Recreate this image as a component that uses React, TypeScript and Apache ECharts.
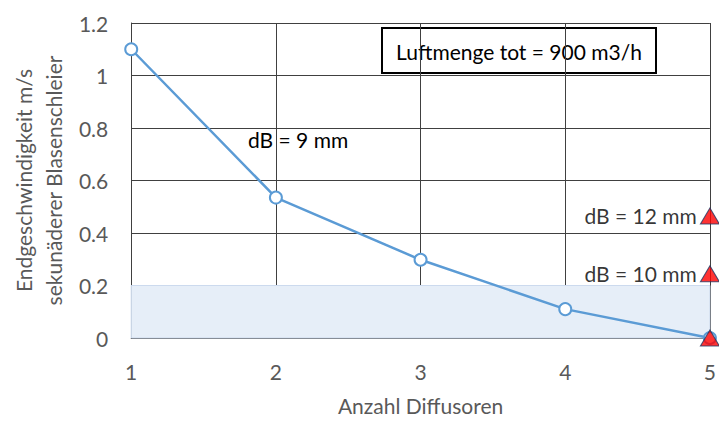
import React, { useEffect, useRef } from "react";
import * as echarts from "echarts";

const xValues = [1, 2, 3, 4, 5];
const speedValues = [1.1, 0.535, 0.298, 0.11, 0.0];
const markerValues = [0.465, 0.245, 0.0];
const markerLabels = ["dB = 12 mm", "dB = 10 mm", ""];
const yTicks = [0, 0.2, 0.4, 0.6, 0.8, 1, 1.2];
const bandRange = [0, 0.2];

const FONT = "Lato";
const GRAY = "#595959";
const FS = 21;

export default function App() {
  const ref = useRef<HTMLDivElement>(null);
  useEffect(() => {
    document.body.style.margin = "0";
    document.body.style.overflow = "hidden";
    if (!ref.current) return;
    const chart = echarts.init(ref.current, null, { renderer: "svg" });
    chart.setOption({
      animation: false,
      textStyle: { fontFamily: FONT },
      grid: { left: 128, right: 9, top: 23, bottom: 79, containLabel: false },
      xAxis: {
        type: "value",
        min: 1,
        max: 5,
        interval: 1,
        name: "Anzahl Diffusoren",
        nameLocation: "middle",
        nameGap: 57,
        nameTextStyle: { color: GRAY, fontSize: FS, fontFamily: FONT },
        axisLine: { show: true, lineStyle: { color: "#404040", width: 1 } },
        axisTick: { show: false },
        axisLabel: { color: GRAY, fontSize: FS, margin: 23, fontFamily: FONT },
        splitLine: { show: true, lineStyle: { color: "#404040", width: 1 } },
      },
      yAxis: {
        type: "value",
        min: yTicks[0],
        max: yTicks[yTicks.length - 1],
        interval: 0.2,
        name: "Endgeschwindigkeit m/s\nsekunäderer Blasenschleier",
        nameLocation: "middle",
        nameGap: 61,
        nameTextStyle: { color: GRAY, fontSize: FS, fontFamily: FONT, lineHeight: 30 },
        axisLine: { show: true, lineStyle: { color: "#404040", width: 1 } },
        axisTick: { show: false },
        axisLabel: {
          color: GRAY,
          fontSize: FS,
          margin: 23,
          fontFamily: FONT,
          formatter: (v: number) => String(Math.round(v * 10) / 10),
        },
        splitLine: { show: true, lineStyle: { color: "#404040", width: 1 } },
      },
      series: [
        {
          type: "line",
          data: xValues.map((x, i) => [x, speedValues[i]]),
          symbol: "circle",
          symbolSize: 12,
          showAllSymbol: true,
          lineStyle: { color: "#5B9BD5", width: 2.5 },
          itemStyle: { color: "#FFFFFF", borderColor: "#5B9BD5", borderWidth: 2 },
          z: 3,
          markArea: {
            silent: true,
            itemStyle: { color: "#E6EEF8", borderColor: "#CCDAEE", borderWidth: 1 },
            data: [[{ yAxis: bandRange[0] }, { yAxis: bandRange[1] }]],
          },
        },
        {
          type: "scatter",
          clip: false,
          data: markerValues.map((v, i) => ({
            value: [5, v],
            label: {
              show: markerLabels[i] !== "",
              formatter: markerLabels[i],
              position: "left",
              distance: 3,
              color: "#000",
              fontSize: FS,
              fontFamily: FONT,
            },
          })),
          symbol: "triangle",
          symbolSize: [19, 16],
          itemStyle: { color: "#FF0000", borderColor: "#1F3864", borderWidth: 1 },
          z: 5,
        },
      ],
      graphic: [
        {
          type: "text",
          left: 248,
          top: 129,
          style: { text: "dB = 9 mm", fill: "#000", fontSize: FS, fontFamily: FONT },
        },
        {
          type: "group",
          left: 381,
          top: 27,
          children: [
            {
              type: "rect",
              shape: { x: 0, y: 0, width: 274, height: 45 },
              style: { fill: "#FFFFFF", stroke: "#000", lineWidth: 2 },
            },
            {
              type: "text",
              x: 137,
              y: 23,
              style: {
                text: "Luftmenge tot = 900 m3/h",
                fill: "#000",
                fontSize: FS,
                fontFamily: FONT,
                align: "center",
                verticalAlign: "middle",
              },
            },
          ],
        },
      ],
    });
    return () => chart.dispose();
  }, []);
  return <div ref={ref} style={{ width: 719, height: 421, overflow: "hidden" }} />;
}
